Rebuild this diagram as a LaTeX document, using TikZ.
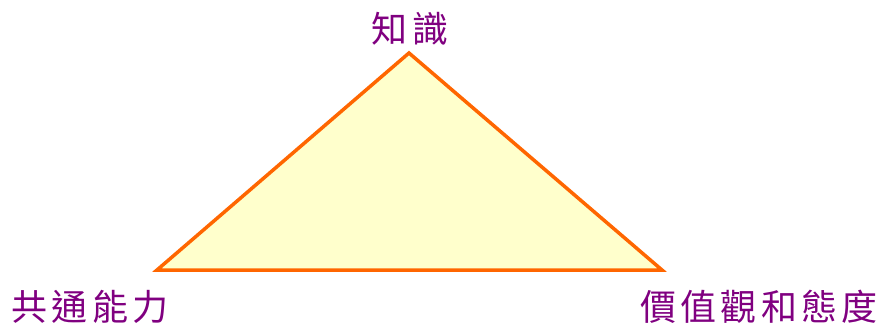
\documentclass[tikz,border=0pt]{standalone}
\usepackage{fontspec}
\newfontfamily\cjk[LetterSpace=12]{Noto Sans CJK TC}
\definecolor{plum}{rgb}{0.50196, 0, 0.50196}
\definecolor{tangerine}{rgb}{1, 0.4, 0}
\definecolor{cream}{rgb}{1, 1, 0.8}

\begin{document}
\begin{tikzpicture}[x=1pt,y=-1pt]
	\tikzstyle{cornerlabel} = [inner sep=0pt,text=plum,font=\cjk\fontsize{36}{40}\selectfont]
	\useasboundingbox (0,0) rectangle (887,329);

	% Corners of the triangle
	\coordinate (top) at (409,53);
	\coordinate (left) at (157,270);
	\coordinate (right) at (662,270);

	% Draw the triangle
	\draw[tangerine,line width=3.5pt,line join=miter,fill=cream] (top) -- (left) -- (right) -- cycle;

	% Labels
	\node[cornerlabel] (knowledge) at (410,29) {知識};
	\node[cornerlabel] (skills) at (90,307) {共通能力};
	\node[cornerlabel] (values) at (759,307) {價值觀和態度};
\end{tikzpicture}
\end{document}
